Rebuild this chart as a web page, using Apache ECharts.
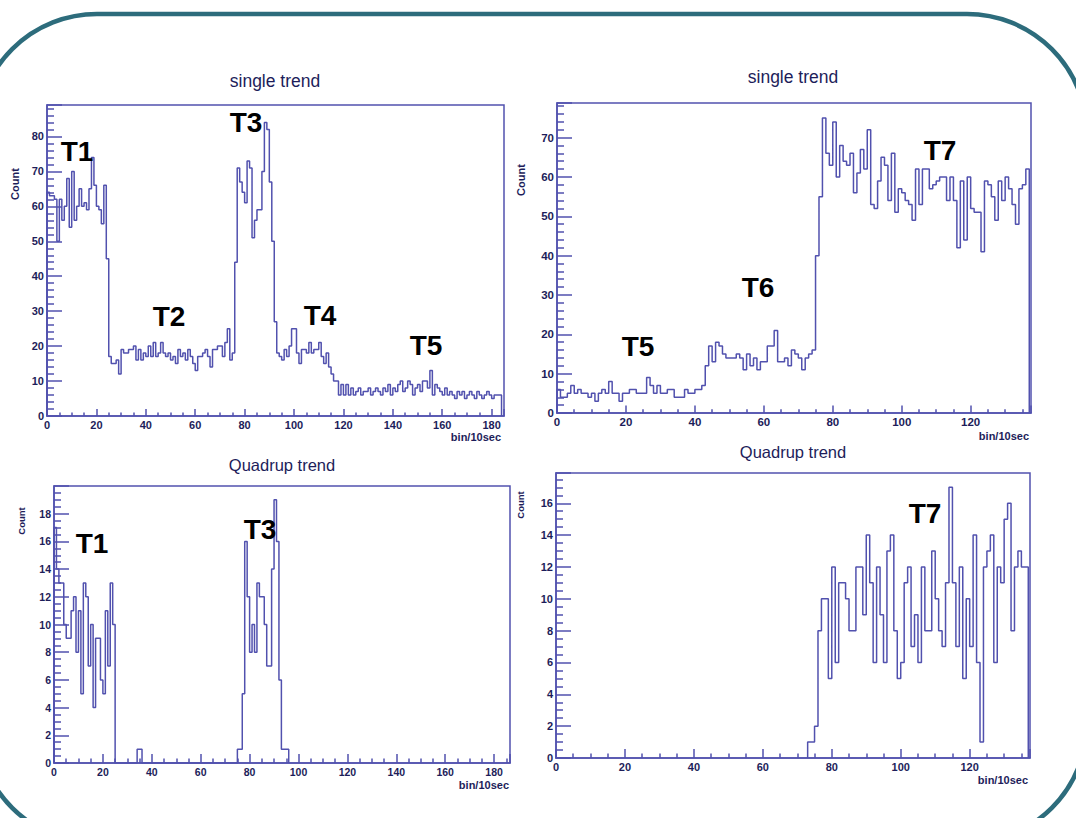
<!DOCTYPE html>
<html><head><meta charset="utf-8">
<script src="https://cdn.jsdelivr.net/npm/echarts@6.0.0/dist/echarts.min.js"></script>
<style>html,body{margin:0;padding:0;background:#fff;}#chart{width:1076px;height:818px;}</style>
</head><body><div id="chart"></div>
<script>
// ---------- data (counts per bin, bin width = 1 unit of bin/10sec) ----------
const panelTitles = ['single trend', 'single trend', 'Quadrup trend', 'Quadrup trend'];
const xAxisTitle = 'bin/10sec';
const yAxisTitle = 'Count';

// top-left: single trend, bins start at 0
const singleLeftStart = 0;
const singleLeftCounts = [
  64,63,63,62,50,62,56,60,68,54,70,56,60,65,60,61,59,65,74,66,60,59,55,66,45,
  17,15,15,16,12,19,18,18,19,19,20,16,19,16,18,17,20,17,21,17,18,21,18,17,18,16,17,15,19,17,18,16,19,17,15,13,17,17,18,19,17,14,19,19,20,20,17,21,25,16,18,
  44,71,67,64,61,73,71,51,56,59,59,70,84,82,67,50,27,18,
  17,16,19,17,20,25,25,18,15,19,19,18,21,18,19,19,21,17,15,18,14,12,10,10,6,9,6,
  9,6,8,6,7,8,6,7,7,8,6,7,8,7,6,8,7,9,6,8,7,9,10,7,8,10,9,6,8,9,7,10,10,8,13,6,9,8,7,6,8,6,7,6,5,7,6,7,5,6,7,6,5,7,6,5,6,7,6,5,6,6,6
];

// top-right: single trend
const singleRightStart = 0;
const singleRightCounts = [
  6,4,4,5,7,5,6,5,5,4,5,3,5,6,5,8,5,5,3,5,5,6,6,5,5,5,9,7,5,7,5,5,6,6,4,4,4,6,5,5,6,6,7,12,
  17,13,18,17,15,14,14,14,15,14,11,15,12,14,11,13,13,17,17,21,13,13,14,12,16,15,14,11,14,15,16,40,55,
  75,66,63,74,60,68,64,63,66,56,61,67,62,72,53,52,59,65,63,54,66,51,57,56,54,53,49,62,53,62,62,57,58,59,60,60,54,60,54,42,59,44,60,52,51,51,41,59,58,55,49,59,54,60,57,53,48,57,58,62
];

// bottom-left: quadruple coincidence trend
const quadLeftStart = 0;
const quadLeftCounts = [
  17,14,13,13,10,9,9,11,12,8,11,5,13,12,7,10,4,9,9,6,5,11,7,13,10,
  0,0,0,0,0,0,0,0,0,
  1,1,
  0,0,0,0,0,0,0,0,0,0,0,0,0,0,0,0,0,0,0,0,0,0,0,0,0,0,0,0,0,0,0,0,0,0,0,0,0,0,0,
  1,1,5,16,12,8,10,8,13,12,12,10,7,7,14,19,16,6,1,1,1
];

// bottom-right: quadruple coincidence trend (all bins before 73 are empty)
const quadRightStart = 73;
const quadRightCounts = [
  1,1,2,8,10,10,5,12,6,11,11,10,8,8,12,12,9,14,11,6,12,9,6,13,14,8,5,6,11,12,7,9,6,12,8,8,
  13,10,8,7,11,17,11,7,12,5,10,7,14,6,1,12,13,14,6,12,11,15,16,8,12,13,12,12
];

// axis ranges / tick steps
const xMax = [185, 137.5, 186.5, 137.5];
const yMax = [89, 78.8, 20, 17.9];
const xStep = [20, 20, 20, 20];
const yStep = [10, 10, 2, 2];
const yMinorSplit = [5, 5, 4, 4];

// period labels
const periodLabels = [
  ['T1', 0], ['T2', 0], ['T3', 0], ['T4', 0], ['T5', 0],
  ['T5', 1], ['T6', 1], ['T7', 1],
  ['T1', 2], ['T3', 2],
  ['T7', 3]
];

// ---------- layout / style ----------
const BLUE = '#5151ae';
const NAVY = '#1d1d5a';
const FONT = '"Liberation Sans", Arial, Helvetica, sans-serif';

const grids = [
  {left: 47, top: 105, width: 457, height: 311},
  {left: 557, top: 103, width: 474, height: 310},
  {left: 54, top: 486, width: 456, height: 277},
  {left: 556, top: 473, width: 474, height: 285}
];
const labelFont = [11, 11.5, 10.5, 11];
const xTickLen = [7, 7.5, 9, 9];
const titlePos = [[275, 81, 17.5], [793, 77, 17.5], [282, 465, 16.5], [793, 452, 16.5]];
const countPos = [[15, 184, 11], [521, 180, 11], [21, 521, 9.5], [520, 505, 9.5]];
const binPos = [[501, 437, 11], [1029, 436, 11], [509, 785, 11], [1028, 780, 11]];
const labelPos = [[77, 151], [169, 316], [246, 122], [320, 315], [426, 345],
                  [638, 346], [758, 287], [940, 150],
                  [92, 543], [260, 529],
                  [925, 513]];

function histPoints(start, counts) {
  const pts = [[start, 0]];
  counts.forEach((c, i) => pts.push([start + i, c]));
  pts.push([start + counts.length, 0]);
  return pts;
}

const histos = [
  histPoints(singleLeftStart, singleLeftCounts),
  histPoints(singleRightStart, singleRightCounts),
  histPoints(quadLeftStart, quadLeftCounts),
  histPoints(quadRightStart, quadRightCounts)
];

const lineSt = {color: BLUE, width: 1.5};
const xAxes = grids.map((g, i) => ({
  type: 'value', gridIndex: i, min: 0, max: xMax[i], interval: xStep[i],
  axisLine: {show: true, onZero: false, lineStyle: lineSt},
  axisTick: {show: true, inside: true, length: xTickLen[i], lineStyle: lineSt},
  minorTick: {show: true, splitNumber: 4, length: xTickLen[i] / 2, lineStyle: lineSt},
  splitLine: {show: false}, minorSplitLine: {show: false},
  axisLabel: {margin: 3, showMaxLabel: false, fontSize: labelFont[i], fontWeight: 'bold', color: NAVY, fontFamily: FONT}
}));
const yAxes = grids.map((g, i) => ({
  type: 'value', gridIndex: i, min: 0, max: yMax[i], interval: yStep[i],
  axisLine: {show: true, onZero: false, lineStyle: lineSt},
  axisTick: {show: true, inside: true, length: 15, lineStyle: lineSt},
  minorTick: {show: true, splitNumber: yMinorSplit[i], length: 7, lineStyle: lineSt},
  splitLine: {show: false}, minorSplitLine: {show: false},
  axisLabel: {margin: 3, showMaxLabel: false, fontSize: labelFont[i], fontWeight: 'bold', color: NAVY, fontFamily: FONT}
}));

const series = histos.map((pts, i) => ({
  type: 'line', xAxisIndex: i, yAxisIndex: i, data: pts, step: 'end',
  symbol: 'none', showSymbol: false, clip: true, animation: false,
  lineStyle: {color: BLUE, width: 1.5}, emphasis: {disabled: true}
}));

const graphic = [
  {type: 'rect', z: -10, silent: true,
   shape: {x: -23, y: 14, width: 1110, height: 829, r: 120},
   style: {fill: 'none', stroke: '#2d6c7c', lineWidth: 4.5}}
];
panelTitles.forEach((t, i) => graphic.push({
  type: 'text', x: titlePos[i][0], y: titlePos[i][1], silent: true,
  style: {text: t, align: 'center', verticalAlign: 'middle', fill: NAVY,
          font: 'normal ' + titlePos[i][2] + 'px ' + FONT}
}));
countPos.forEach((p) => graphic.push({
  type: 'text', x: p[0], y: p[1], rotation: Math.PI / 2, silent: true,
  style: {text: yAxisTitle, align: 'center', verticalAlign: 'middle', fill: NAVY,
          font: 'bold ' + p[2] + 'px ' + FONT}
}));
binPos.forEach((p) => graphic.push({
  type: 'text', x: p[0], y: p[1], silent: true,
  style: {text: xAxisTitle, align: 'right', verticalAlign: 'middle', fill: NAVY,
          font: 'bold ' + p[2] + 'px ' + FONT}
}));
periodLabels.forEach((l, k) => graphic.push({
  type: 'text', x: labelPos[k][0], y: labelPos[k][1], silent: true, z: 20,
  style: {text: l[0], align: 'center', verticalAlign: 'middle', fill: '#000',
          font: 'bold 28px ' + FONT}
}));

const chart = echarts.init(document.getElementById('chart'), null, {renderer: 'svg'});
chart.setOption({
  backgroundColor: '#ffffff',
  animation: false,
  grid: grids.map(g => Object.assign({show: true, borderColor: BLUE, borderWidth: 1.5, backgroundColor: 'transparent', containLabel: false}, g)),
  xAxis: xAxes,
  yAxis: yAxes,
  series: series,
  graphic: graphic
});
</script></body></html>
